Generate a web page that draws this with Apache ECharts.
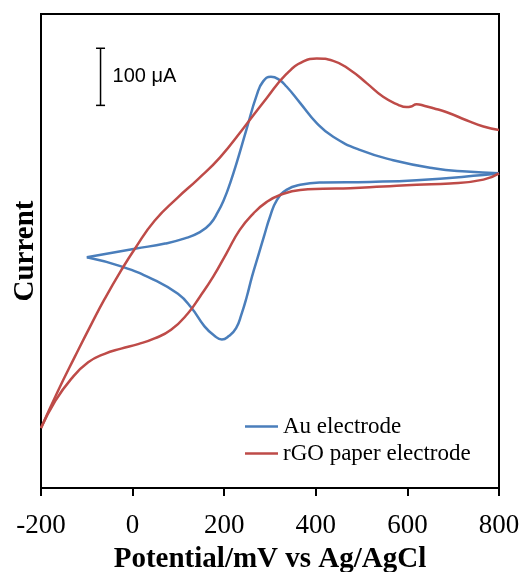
<!DOCTYPE html>
<html>
<head>
<meta charset="utf-8">
<script src="https://cdn.jsdelivr.net/npm/echarts@6/dist/echarts.min.js"></script>
<style>
  html, body { margin: 0; padding: 0; background: #fff; }
  #cv_chart { width: 527px; height: 572px; }
</style>
</head>
<body>
<div id="cv_chart"></div>
<script>
// potential (mV vs Ag/AgCl), current (uA, arbitrary offset)

var xTicks = [-200, 0, 200, 400, 600, 800];

// Au electrode: anodic sweep -100 -> 800, then cathodic back 800 -> -100
var auAnodic = [
  [-100, 404], [5, 419], [71, 428], [114, 437], [147, 448], [169, 462],
  [186, 483], [200, 506], [213, 534], [227, 569], [249, 629], [271, 688],
  [285, 712], [302, 720], [318, 716], [336, 703], [366, 674], [402, 639],
  [438, 615], [496, 592], [569, 574], [657, 560], [729, 554], [800, 551]
];
var auCathodic = [
  [800, 551], [766, 548], [620, 539], [518, 536], [416, 535], [366, 531],
  [336, 522], [315, 504], [300, 475], [287, 441], [274, 406], [261, 371],
  [249, 334], [238, 305], [226, 280], [210, 266], [195, 260], [178, 267],
  [157, 283], [128, 316], [99, 340], [48, 364], [-25, 388], [-100, 404]
];

// rGO paper electrode: anodic -200 -> 800, cathodic 800 -> -200
var rgoAnodic = [
  [-200, 105], [-163, 170], [-126, 230], [-90, 287], [-61, 331], [-25, 381],
  [5, 419], [48, 468], [99, 509], [143, 541], [191, 579], [242, 630],
  [293, 683], [336, 725], [373, 747], [402, 752], [438, 748], [475, 732],
  [511, 709], [547, 685], [580, 671], [598, 667], [608, 668], [620, 672],
  [638, 669], [657, 665], [686, 658], [729, 644], [766, 633], [800, 627]
];
var rgoCathodic = [
  [800, 551], [766, 540], [693, 533], [620, 531], [547, 528], [475, 525],
  [416, 524], [366, 522], [322, 513], [293, 501], [264, 481], [234, 452],
  [205, 411], [176, 370], [147, 335], [121, 306], [84, 277], [48, 262],
  [12, 252], [-25, 244], [-61, 235], [-97, 220], [-134, 191], [-170, 151],
  [-200, 105]
];

// scale bar: E, lower and upper current (100 uA)
var scaleBar = [[-70, 670, 770]];
var scaleLabel = '100 \u03bcA';

var names = ['Au electrode', 'rGO paper electrode'];
var colors = ['#4a7ebb', '#be4b48'];
var serif = "'Liberation Serif', 'Times New Roman', serif";

var chart = echarts.init(document.getElementById('cv_chart'));

function branch(name, color, data) {
  return {
    name: name,
    type: 'line',
    data: data,
    symbol: 'none',
    smooth: 0.5,
    lineStyle: { color: color, width: 2.5 },
    itemStyle: { color: color },
    animation: false
  };
}

var option = {
  animation: false,
  grid: {
    left: 41, right: 28, top: 14, bottom: 84,
    outerBoundsMode: 'none',
    containLabel: false,
    show: true, borderColor: '#000', borderWidth: 2
  },
  legend: {
    data: names,
    orient: 'vertical',
    left: 245,
    top: 415,
    padding: 0,
    icon: 'rect',
    itemWidth: 33,
    itemHeight: 2.5,
    itemGap: 4,
    textStyle: { fontFamily: serif, fontSize: 23, color: '#000', lineHeight: 23 }
  },
  xAxis: {
    type: 'value',
    min: -200,
    max: 800,
    interval: 200,
    name: 'Potential/mV vs Ag/AgCl',
    nameLocation: 'middle',
    nameGap: 57,
    nameTextStyle: { fontFamily: serif, fontSize: 29, fontWeight: 'bold', color: '#000' },
    axisLine: { onZero: false, lineStyle: { color: '#000', width: 2 } },
    axisTick: { show: true, length: 8, inside: false, lineStyle: { color: '#000', width: 2 } },
    axisLabel: {
      fontFamily: serif, fontSize: 27, color: '#000', margin: 24,
      formatter: function (v) { return xTicks.indexOf(v) >= 0 ? String(v) : ''; }
    },
    splitLine: { show: false }
  },
  yAxis: {
    type: 'value',
    min: 0,
    max: 830,
    name: 'Current',
    nameLocation: 'middle',
    nameGap: 1,
    nameTextStyle: { fontFamily: serif, fontSize: 29, fontWeight: 'bold', color: '#000' },
    axisLine: { show: true, onZero: false, lineStyle: { color: '#000', width: 2 } },
    axisTick: { show: false },
    axisLabel: { show: false },
    splitLine: { show: false }
  },
  series: [
    branch(names[0], colors[0], auAnodic),
    branch(names[0], colors[0], auCathodic),
    branch(names[1], colors[1], rgoAnodic),
    branch(names[1], colors[1], rgoCathodic),
    {
      name: 'scale',
      type: 'custom',
      data: scaleBar,
      animation: false,
      renderItem: function (params, api) {
        var lo = api.coord([api.value(0), api.value(1)]);
        var hi = api.coord([api.value(0), api.value(2)]);
        var st = { stroke: '#000', lineWidth: 1.5 };
        return {
          type: 'group',
          children: [
            { type: 'line', shape: { x1: lo[0], y1: lo[1], x2: hi[0], y2: hi[1] }, style: st },
            { type: 'line', shape: { x1: lo[0] - 4.5, y1: lo[1], x2: lo[0] + 4.5, y2: lo[1] }, style: st },
            { type: 'line', shape: { x1: hi[0] - 4.5, y1: hi[1], x2: hi[0] + 4.5, y2: hi[1] }, style: st },
            {
              type: 'text',
              x: lo[0] + 12,
              y: (lo[1] + hi[1]) / 2,
              style: {
                text: scaleLabel,
                fill: '#000',
                font: "20px 'Liberation Sans', Arial, sans-serif",
                textVerticalAlign: 'middle',
                verticalAlign: 'middle'
              }
            }
          ]
        };
      }
    }
  ]
};

chart.setOption(option);
</script>
</body>
</html>
